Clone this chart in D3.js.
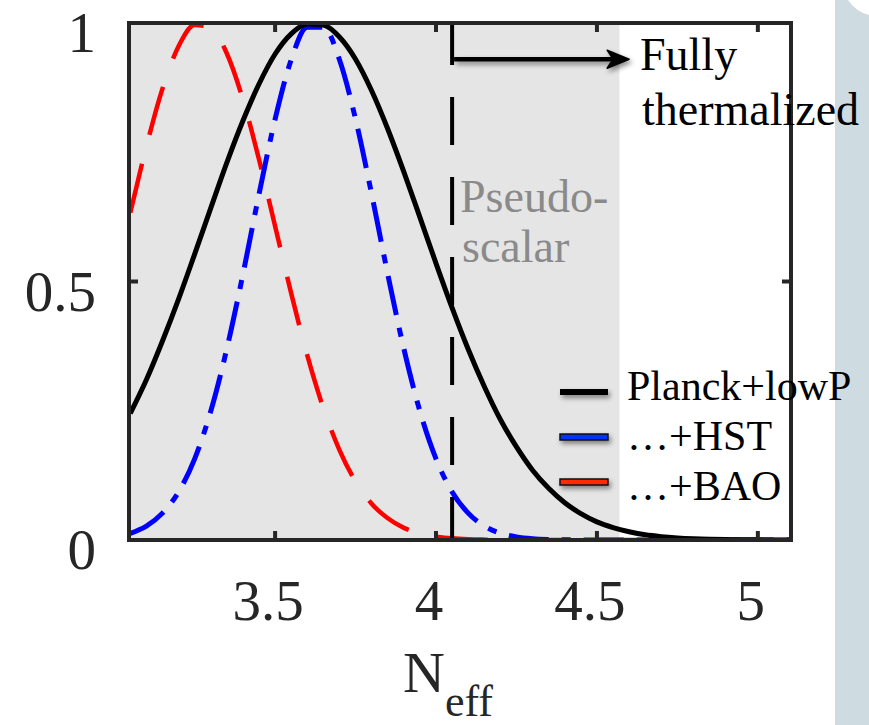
<!DOCTYPE html>
<html>
<head>
<meta charset="utf-8">
<script src="https://cdn.jsdelivr.net/npm/d3@7"></script>
<style>
  body { margin: 0; background: #fff; }
  text { font-family: "Liberation Serif", "Times New Roman", serif; }
</style>
</head>
<body>
<div id="visualization"></div>
<script>
// Data
const neff = [3.05, 3.10, 3.15, 3.20, 3.25, 3.30, 3.35, 3.40, 3.45, 3.50, 3.55, 3.60, 3.65, 3.70,
  3.75, 3.80, 3.85, 3.90, 3.95, 4.00, 4.05, 4.10, 4.15, 4.20, 4.25, 4.30, 4.35, 4.40, 4.45, 4.50,
  4.55, 4.60, 4.65, 4.70, 4.75, 4.80, 4.85, 4.90, 4.95, 5.00, 5.05, 5.10];
const planckLowP = [0.245, 0.310, 0.385, 0.466, 0.553, 0.642, 0.730, 0.811, 0.882, 0.940, 0.979, 0.998, 0.996, 0.973,
  0.930, 0.869, 0.795, 0.712, 0.624, 0.535, 0.449, 0.369, 0.297, 0.233, 0.180, 0.135, 0.100, 0.072, 0.051, 0.035,
  0.024, 0.016, 0.010, 0.0064, 0.0040, 0.0024, 0.0014, 0.0008, 0.0005, 0.0003, 0.0001, 0.0001];
const plusHST = [0.013, 0.027, 0.052, 0.093, 0.157, 0.249, 0.370, 0.514, 0.669, 0.814, 0.929, 0.992, 0.992, 0.929,
  0.814, 0.669, 0.514, 0.370, 0.249, 0.157, 0.093, 0.052, 0.027, 0.013, 0.006, 0.0025, 0.001, 0.0004, 0.0001, 0,
  0, 0, 0, 0, 0, 0, 0, 0, 0, 0, 0, 0];
const plusBAO = [0.633, 0.761, 0.873, 0.955, 0.996, 0.992, 0.941, 0.852, 0.736, 0.607, 0.477, 0.357, 0.255, 0.174,
  0.113, 0.070, 0.042, 0.0235, 0.0126, 0.0065, 0.0032, 0.0015, 0.0007, 0.0003, 0.0001, 0, 0, 0, 0, 0,
  0, 0, 0, 0, 0, 0, 0, 0, 0, 0, 0, 0];
const xTicks = [3.5, 4, 4.5, 5];
const yTicks = [0, 0.5, 1];
const xDomain = [3.046, 5.103];
const shadedEnd = 4.57;
const thermalLine = 4.05;
const arrowEnd = 4.6;
const arrowLevel = 0.93;
const legendLabels = ["Planck+lowP", "\u2026+HST", "\u2026+BAO"];

// Sets dimensions
const width = 869;
const height = 725;
const plot = { left: 129, right: 791, top: 23, bottom: 540 };

const svg = d3.select("#visualization")
    .append("svg")
    .attr("width", width)
    .attr("height", height);

const defs = svg.append("defs");
defs.append("filter")
    .attr("id", "shadow")
    .attr("filterUnits", "userSpaceOnUse")
    .attr("x", 0).attr("y", 0).attr("width", width).attr("height", height)
    .append("feDropShadow")
    .attr("dx", 2).attr("dy", 3)
    .attr("stdDeviation", 2.5)
    .attr("flood-color", "#000")
    .attr("flood-opacity", 0.45);
defs.append("clipPath")
    .attr("id", "plotClip")
    .append("rect")
    .attr("x", plot.left).attr("y", plot.top)
    .attr("width", plot.right - plot.left)
    .attr("height", plot.bottom - plot.top);

// Page panel on the right
svg.append("path")
    .attr("d", "M835,0 L848,0 Q856,12 869,15 L869,725 L835,725 Z")
    .attr("fill", "#cedbe1");

// Scales
const x = d3.scaleLinear().domain(xDomain).range([plot.left, plot.right]);
const y = d3.scaleLinear().domain([0, 1]).range([plot.bottom, plot.top]);

// Shaded region
svg.append("rect")
    .attr("x", x(xDomain[0]))
    .attr("y", y(1))
    .attr("width", x(shadedEnd) - x(xDomain[0]))
    .attr("height", y(0) - y(1))
    .attr("fill", "#e5e5e5");

// Curves
const line = d3.line()
    .x((d, i) => x(neff[i]))
    .y(d => y(d))
    .curve(d3.curveMonotoneX);

const curves = svg.append("g").attr("clip-path", "url(#plotClip)");
curves.append("path")
    .datum(plusBAO)
    .attr("fill", "none")
    .attr("stroke", "#ff0000")
    .attr("stroke-width", 4.5)
    .attr("stroke-dasharray", "50,30")
    .attr("d", line);
curves.append("path")
    .datum(plusHST)
    .attr("fill", "none")
    .attr("stroke", "#0000ff")
    .attr("stroke-width", 5)
    .attr("stroke-dasharray", "40,13,9,13")
    .attr("d", line);
curves.append("path")
    .datum(planckLowP)
    .attr("fill", "none")
    .attr("stroke", "#000")
    .attr("stroke-width", 5)
    .attr("d", line);

// Dashed vertical line
svg.append("line")
    .attr("x1", x(thermalLine)).attr("x2", x(thermalLine))
    .attr("y1", y(1)).attr("y2", y(0))
    .attr("stroke", "#000")
    .attr("stroke-width", 4)
    .attr("stroke-dasharray", "48,32")
    .attr("stroke-dashoffset", 6);

// Arrow
const ax0 = x(thermalLine) + 2;
const ax1 = x(arrowEnd);
const ay = y(arrowLevel);
const arrow = svg.append("g").attr("filter", "url(#shadow)");
arrow.append("line")
    .attr("x1", ax0).attr("x2", ax1 - 10)
    .attr("y1", ay).attr("y2", ay)
    .attr("stroke", "#000")
    .attr("stroke-width", 4.5);
arrow.append("path")
    .attr("d", `M${ax1},${ay} L${ax1 - 22},${ay - 9} L${ax1 - 16},${ay} L${ax1 - 22},${ay + 9} Z`)
    .attr("fill", "#000")
    .attr("stroke", "#000")
    .attr("stroke-width", 1.5)
    .attr("stroke-linejoin", "round");

// Frame and ticks
const frameColor = "#262626";
const tickLen = 9;
svg.append("rect")
    .attr("x", plot.left).attr("y", plot.top)
    .attr("width", plot.right - plot.left)
    .attr("height", plot.bottom - plot.top)
    .attr("fill", "none")
    .attr("stroke", frameColor)
    .attr("stroke-width", 4);

const ticks = svg.append("g").attr("stroke", frameColor).attr("stroke-width", 4);
xTicks.forEach(t => {
    ticks.append("line").attr("x1", x(t)).attr("x2", x(t)).attr("y1", plot.bottom).attr("y2", plot.bottom - tickLen);
    ticks.append("line").attr("x1", x(t)).attr("x2", x(t)).attr("y1", plot.top).attr("y2", plot.top + tickLen);
});
yTicks.forEach(t => {
    ticks.append("line").attr("x1", plot.left).attr("x2", plot.left + tickLen).attr("y1", y(t)).attr("y2", y(t));
    ticks.append("line").attr("x1", plot.right).attr("x2", plot.right - tickLen).attr("y1", y(t)).attr("y2", y(t));
});

// Tick labels
svg.selectAll(".xlab")
    .data(xTicks)
    .enter()
    .append("text")
    .attr("class", "xlab")
    .attr("x", d => x(d) - 7)
    .attr("y", plot.bottom + 80)
    .attr("text-anchor", "middle")
    .attr("font-size", 57)
    .attr("fill", frameColor)
    .text(d => d);

svg.selectAll(".ylab")
    .data(yTicks)
    .enter()
    .append("text")
    .attr("class", "ylab")
    .attr("x", 96)
    .attr("y", d => y(d) + 29)
    .attr("text-anchor", "end")
    .attr("font-size", 57)
    .attr("fill", frameColor)
    .text(d => d);

// Axis title
const title = svg.append("text")
    .attr("x", 403)
    .attr("y", 692)
    .attr("font-size", 58)
    .attr("fill", frameColor);
title.append("tspan").text("N");
title.append("tspan").attr("dy", 24).attr("font-size", 44).text("eff");

// Annotations
svg.append("text").attr("x", 640).attr("y", 70).attr("font-size", 46).text("Fully");
svg.append("text").attr("x", 642).attr("y", 125).attr("font-size", 46).text("thermalized");
svg.append("text").attr("x", 460).attr("y", 212).attr("font-size", 46).attr("fill", "#8a8a8a").text("Pseudo-");
svg.append("text").attr("x", 462).attr("y", 262).attr("font-size", 46).attr("fill", "#8a8a8a").text("scalar");

// Legend
const legendY = [392, 437, 482];
const legendText = [400, 450, 500];
const legend = svg.append("g");
legend.append("rect")
    .attr("x", 560).attr("y", legendY[0] - 3)
    .attr("width", 48).attr("height", 6)
    .attr("fill", "#000")
    .attr("filter", "url(#shadow)");
[["#0033ff", legendY[1]], ["#ff2a00", legendY[2]]].forEach(([c, ly]) => {
    legend.append("rect")
        .attr("x", 560).attr("y", ly - 3)
        .attr("width", 48).attr("height", 6)
        .attr("fill", c)
        .attr("stroke", "#111")
        .attr("stroke-width", 1.5)
        .attr("filter", "url(#shadow)");
});
legend.selectAll("text")
    .data(legendLabels)
    .enter()
    .append("text")
    .attr("x", 627)
    .attr("y", (d, i) => legendText[i])
    .attr("font-size", 42)
    .text(d => d);
</script>
</body>
</html>
